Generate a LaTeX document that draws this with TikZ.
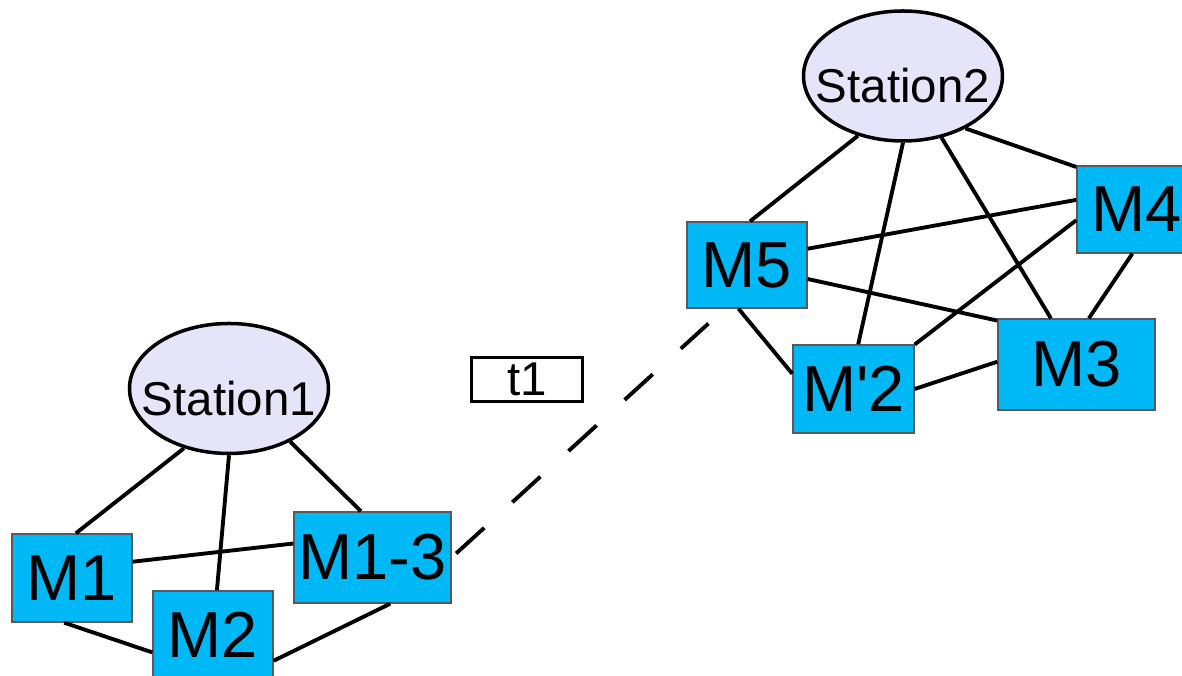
\documentclass[tikz,border=0pt]{standalone}
\usepackage{fontspec}
\setmainfont{Liberation Sans}
\usetikzlibrary{shapes.geometric}

\definecolor{machblue}{RGB}{0,184,245}
\definecolor{stationfill}{RGB}{229,229,250}

\begin{document}
\begin{tikzpicture}[
  station/.style={ellipse,draw=black,line width=1pt,fill=stationfill,
    minimum width=1.99cm,minimum height=1.30cm,inner sep=0pt,
    text height=0.54cm,text depth=0cm,font=\fontsize{13.5}{16}\selectfont},
  machine/.style={rectangle,draw=black!65,line width=0.4pt,fill=machblue,
    inner sep=0pt,font=\fontsize{18.5}{22}\selectfont},
  stamp/.style={rectangle,draw=black,line width=1pt,minimum width=1.11cm,
    minimum height=0.44cm,inner sep=0pt,font=\fontsize{13.5}{16}\selectfont},
  link/.style={line width=1.1pt},
  ]
  \useasboundingbox (0,0) rectangle (11.82,6.76);
  \clip (0,0) rectangle (11.82,6.76);

  % Stations
  \node[station] (S1) at (2.29,2.875) {\makebox[0pt]{Station1}};
  \node[station] (S2) at (9.03,6.00) {\makebox[0pt]{Station2}};

  % Machines around station 1
  \node[machine,minimum width=1.20cm,minimum height=0.88cm] (M1) at (0.72,0.98) {M1};
  \node[machine,minimum width=1.20cm,minimum height=0.88cm] (M2) at (2.13,0.41) {M2};
  \node[machine,minimum width=1.57cm,minimum height=0.91cm] (M13) at (3.725,1.185) {M1-3};

  % Machines around station 2
  \node[machine,minimum width=1.20cm,minimum height=0.86cm] (M5) at (7.47,4.11) {M5};
  \node[machine,minimum width=1.21cm,minimum height=0.88cm] (M2p) at (8.535,2.87) {M\textquotesingle 2};
  \node[machine,minimum width=1.57cm,minimum height=0.91cm] (M3) at (10.765,3.115) {M3};
  \node[machine,minimum width=1.20cm,minimum height=0.87cm] (M4) at (11.37,4.665) {M4};

  % Time stamp
  \node[stamp] (T1) at (5.27,2.965) {t1};

  % Links of station 1
  \draw[link] (S1.233) -- (M1.85);
  \draw[link] (S1.south) -- (M2.85);
  \draw[link] (S1.319) -- (M13.104);
  \draw[link] (M1.15) -- (M13.170);
  \draw[link] (M1.260) -- (M2.196);
  \draw[link] (M13.291) -- (M2.337);

  % Links of station 2
  \draw[link] (S2.233) -- (M5.86);
  \draw[link] (S2.south) -- (M2p.84);
  \draw[link] (S2.302) -- (M3.119);
  \draw[link] (S2.320) -- (M4.145);
  \draw[link] (M5.15) -- (M4.171);
  \draw[link] (M2p.36) -- (M4.190);
  \draw[link] (M5.347) -- (M3.151);
  \draw[link] (M5.259) -- (M2p.166);
  \draw[link] (M4.264) -- (M3.75);
  \draw[link] (M2p.east) -- (M3.178);

  % Move of M1-3 to M5
  \draw[link,dash pattern=on 0.38cm off 0.38cm,shorten <=0.06cm,shorten >=0.22cm]
    (M13.east) -- (M5.243);
\end{tikzpicture}
\end{document}
